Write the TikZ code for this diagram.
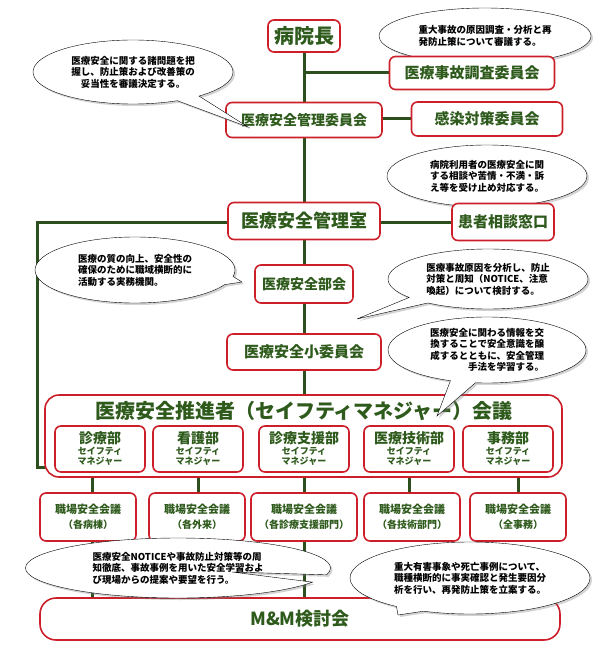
\documentclass[tikz,border=0pt]{standalone}
\usepackage{fontspec}
\setmainfont{Noto Sans CJK JP}
\usetikzlibrary{shapes.callouts,shadows}
\definecolor{tg}{HTML}{2E5A1C}
\definecolor{lg}{HTML}{2D4F1E}
\definecolor{rb}{HTML}{CC1F2A}
\tikzset{
 box/.style={draw=rb,line width=1.6pt,rounded corners=6pt,fill=white,text=tg,font=\bfseries,inner sep=2pt},
 ln/.style={draw=lg,line width=3pt},
 bub/.style={ellipse callout,draw=black,line width=0.4pt,fill=white,drop shadow={opacity=0.35,shadow xshift=2pt,shadow yshift=-2pt},font=\fontsize{9.5}{11.5}\selectfont\bfseries,align=left,inner sep=0pt}
}
\begin{document}
\begin{tikzpicture}[x=1pt,y=-1pt]
\useasboundingbox (0,0) rectangle (610,650);
% lines
\coordinate (lb) at (37,222);
\coordinate (lc) at (37,467);
\draw[ln] (304,40) -- (304,600);
\draw[ln] (304,73) -- (392,73);
\draw[ln] (382,119) -- (412,119);
\draw[ln] (380,222) -- (454,222);
\draw[ln] (230,222) -- (lb) -- (lc) -- (47,467);
\foreach \x in {92,198,409,518}{\draw[ln] (\x,470) -- (\x,495);}
\draw[ln] (92,535) -- (92,600);
% bubbles drawn beneath boxes
\node[bub,minimum width=212,minimum height=56,callout absolute pointer={(455,62)}] (q1) at (485,36) {重大事故の原因調査・分析と再\\発防止策について審議する。};
\node[bub,minimum width=200,minimum height=62,callout absolute pointer={(470,206)}] (q3) at (487,176) {病院利用者の医療安全に関\\する相談や苦情・不満・訴\\え等を受け止め対応する。};
% boxes
\node[box,minimum width=72,minimum height=32,font=\fontsize{20}{22}\selectfont\bfseries] (a) at (304,36) {病院長};
\node[box,minimum width=165,minimum height=33,font=\fontsize{15}{17}\selectfont\bfseries] (b) at (472,73) {医療事故調査委員会};
\node[box,minimum width=156,minimum height=35,font=\fontsize{14}{16}\selectfont\bfseries] (c) at (304,120) {医療安全管理委員会};
\node[box,minimum width=151,minimum height=34,font=\fontsize{15}{17}\selectfont\bfseries] (d) at (487,119) {感染対策委員会};
\node[box,minimum width=152,minimum height=37,font=\fontsize{18}{20}\selectfont\bfseries] (e) at (304,221) {医療安全管理室};
\node[box,minimum width=102,minimum height=37,font=\fontsize{15}{17}\selectfont\bfseries] (f) at (503,222) {患者相談窓口};
\node[box,minimum width=98,minimum height=38,font=\fontsize{14}{16}\selectfont\bfseries] (g) at (304,284) {医療安全部会};
\node[box,minimum width=154,minimum height=36,font=\fontsize{15}{17}\selectfont\bfseries] (h) at (304,352) {医療安全小委員会};
\node[box,minimum width=517,minimum height=82,rounded corners=14pt] (big) at (303.5,436) {};
\node[text=tg,font=\fontsize{20}{22}\selectfont\bfseries] (bt) at (304,411) {医療安全推進者（セイフティマネジャー）会議};
\foreach \n/\x/\t in {s1/100/診療部,s2/198/看護部,s3/304/診療支援部,s4/409/医療技術部,s5/508/事務部}{
 \node[box,minimum width=90,minimum height=46,align=center,inner sep=1pt] (\n) at (\x,449) {{\fontsize{14}{16}\selectfont \t}\\[-1pt]{\fontsize{9}{11}\selectfont セイフティ}\\[-2pt]{\fontsize{9}{11}\selectfont マネジャー}};
}
\foreach \n/\x/\w/\t in {w1/88/96/各病棟,w2/197/96/各外来,w3/304/106/各診療支援部門,w4/412/96/各技術部門,w5/518/96/全事務}{
 \node[box,minimum width=\w,minimum height=48,align=center,font=\fontsize{11}{13}\selectfont\bfseries] (\n) at (\x,517) {職場安全会議\\[2pt]{\fontsize{10}{12}\selectfont （\t）}};
}
\node[box,minimum width=520,minimum height=42,rounded corners=16pt,font=\fontsize{18}{20}\selectfont\bfseries] (mm) at (300,619) {M\&M検討会};
% bubbles
\node[bub,minimum width=200,minimum height=64,callout absolute pointer={(248,127)},align=center] (q2) at (133,72) {医療安全に関する諸問題を把\\握し、防止策および改善策の\\妥当性を審議決定する。};
\node[bub,minimum width=200,minimum height=66,callout absolute pointer={(242,282)}] (q4) at (135,270) {医療の質の向上、安全性の\\確保のために職域横断的に\\活動する実務機関。};
\node[bub,minimum width=200,minimum height=60,callout absolute pointer={(357,319)}] (q5) at (488,279) {医療事故原因を分析し、防止\\対策と周知（NOTICE、注意\\喚起）について検討する。};
\node[bub,minimum width=198,minimum height=66,callout absolute pointer={(437,416)},align=right] (q6) at (487,350) {医療安全に関わる情報を交\\換することで安全意識を醸\\成するとともに、安全管理\\手法を学習する。};
\node[bub,minimum width=305,minimum height=60,callout absolute pointer={(232,572)}] (q7) at (178,568) {医療安全NOTICEや事故防止対策等の周\\知徹底、事故事例を用いた安全学習およ\\び現場からの提案や要望を行う。};
\node[bub,minimum width=240,minimum height=72,callout absolute pointer={(398,615)}] (q8) at (470,578) {重大有害事象や死亡事例について、\\職種横断的に事実確認と発生要因分\\析を行い、再発防止策を立案する。};
\end{tikzpicture}
\end{document}
